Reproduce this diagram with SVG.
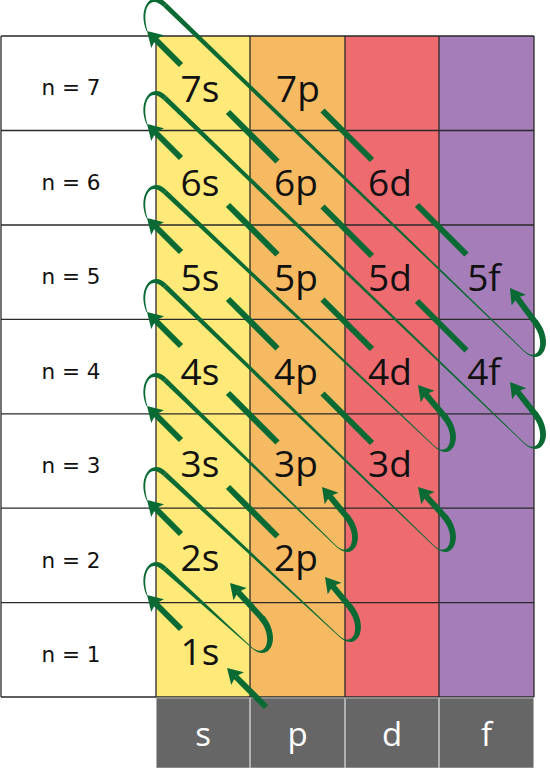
<svg xmlns="http://www.w3.org/2000/svg" width="550" height="768" viewBox="0 0 550 768">
<style>
.grid{fill:none;stroke:#2a2a2a;stroke-width:1.3}
.orb{font-family:"Open Sans","Liberation Sans",sans-serif;font-size:37px;fill:#111;text-anchor:middle}
.nl{font-family:"DejaVu Sans","Liberation Sans",sans-serif;font-size:21.5px;fill:#111;text-anchor:middle}
.hdr{font-family:"Open Sans","Liberation Sans",sans-serif;font-size:33px;fill:#fff;text-anchor:middle}
.hbox{fill:#666;stroke:#b0b0b0;stroke-width:1}
.seg{fill:none;stroke:#0a6a34;stroke-width:6;stroke-linecap:butt}
.arr{marker-end:url(#ah)}
.rib{fill:#0a6a34}
</style>
<defs>
<marker id="ah" markerUnits="userSpaceOnUse" viewBox="0 -10 16 20" markerWidth="16" markerHeight="20" refX="3" refY="0" orient="auto">
<path d="M0,-9 L15,0 L0,9 L3,0 Z" fill="#0a6a34"/>
</marker>
<path id="loop" d="M-0.4,0.15 C-10.3,-22.5 5,-43 19.7,-27.7 L16.3,-24.3 C3,-37.5 -5.9,-21.5 0.4,-0.15 Z"/>
<path id="hook" d="M2.5,-2.1 C21,21.5 6,46.5 -11.3,29.3 L-10.7,28.7 C4,42 12,19 -2.5,2.1 Z"/>
</defs>
<rect width="550" height="768" fill="#fff"/>
<g id="columns">
<rect x="156" y="36" width="94" height="661" fill="#ffe978"/>
<rect x="250" y="36" width="95" height="661" fill="#f6ba63"/>
<rect x="345" y="36" width="94" height="661" fill="#ee6b70"/>
<rect x="439" y="36" width="95" height="661" fill="#a57db8"/>
</g>
<path class="grid" d="M1,36H534M1,130.5H534M1,225H534M1,319.3H534M1,413.8H534M1,508.2H534M1,602.7H534M1,697H534M1,36V697M156,36V697M250,36V697M345,36V697M439,36V697M534,36V697"/>
<g id="n7"><text class="nl" x="71" y="95">n = 7</text></g>
<g id="n6"><text class="nl" x="71" y="189.5">n = 6</text></g>
<g id="n5"><text class="nl" x="71" y="284">n = 5</text></g>
<g id="n4"><text class="nl" x="71" y="378.5">n = 4</text></g>
<g id="n3"><text class="nl" x="71" y="473">n = 3</text></g>
<g id="n2"><text class="nl" x="71" y="567.5">n = 2</text></g>
<g id="n1"><text class="nl" x="71" y="662">n = 1</text></g>
<g id="orb-7s"><text class="orb" x="200" y="102">7s</text></g>
<g id="orb-7p"><text class="orb" x="298" y="102">7p</text></g>
<g id="orb-6s"><text class="orb" x="200" y="196">6s</text></g>
<g id="orb-6p"><text class="orb" x="296" y="196">6p</text></g>
<g id="orb-6d"><text class="orb" x="390" y="196">6d</text></g>
<g id="orb-5s"><text class="orb" x="200" y="291">5s</text></g>
<g id="orb-5p"><text class="orb" x="296" y="291">5p</text></g>
<g id="orb-5d"><text class="orb" x="390" y="291">5d</text></g>
<g id="orb-5f"><text class="orb" x="484" y="291">5f</text></g>
<g id="orb-4s"><text class="orb" x="200" y="385">4s</text></g>
<g id="orb-4p"><text class="orb" x="296" y="385">4p</text></g>
<g id="orb-4d"><text class="orb" x="390" y="385">4d</text></g>
<g id="orb-4f"><text class="orb" x="484" y="385">4f</text></g>
<g id="orb-3s"><text class="orb" x="200" y="477">3s</text></g>
<g id="orb-3p"><text class="orb" x="296" y="477">3p</text></g>
<g id="orb-3d"><text class="orb" x="390" y="477">3d</text></g>
<g id="orb-2s"><text class="orb" x="200" y="571">2s</text></g>
<g id="orb-2p"><text class="orb" x="296" y="571">2p</text></g>
<g id="orb-1s"><text class="orb" x="200" y="665">1s</text></g>
<g id="hdr-s"><rect class="hbox" x="156.5" y="698" width="93" height="70"/><text class="hdr" x="203" y="746">s</text></g>
<g id="hdr-p"><rect class="hbox" x="250.5" y="698" width="94" height="70"/><text class="hdr" x="297.5" y="746">p</text></g>
<g id="hdr-d"><rect class="hbox" x="345.5" y="698" width="93" height="70"/><text class="hdr" x="392" y="746">d</text></g>
<g id="hdr-f"><rect class="hbox" x="439.5" y="698" width="94" height="70"/><text class="hdr" x="486.5" y="746">f</text></g>
<g id="connectors">
<g class="rib">
<use href="#loop" transform="translate(147,595)"/>
<use href="#loop" transform="translate(147,500)"/>
<use href="#loop" transform="translate(147,406)"/>
<use href="#loop" transform="translate(147,312)"/>
<use href="#loop" transform="translate(147,218)"/>
<use href="#loop" transform="translate(147,124)"/>
<use href="#loop" transform="translate(147,31)"/>
<use href="#hook" transform="translate(262,618)"/>
<use href="#hook" transform="translate(350,607)"/>
<use href="#hook" transform="translate(347,517)"/>
<use href="#hook" transform="translate(445,517)"/>
<use href="#hook" transform="translate(445,417)"/>
<use href="#hook" transform="translate(535,414)"/>
<use href="#hook" transform="translate(535,322)"/>
<polygon points="163.3,570.7 250.7,647.3 251.3,646.7 166.7,567.3"/>
<polygon points="163.3,475.7 338.7,636.3 339.3,635.7 166.7,472.3"/>
<polygon points="163.3,381.7 335.7,546.3 336.3,545.7 166.7,378.3"/>
<polygon points="163.3,287.7 433.7,546.3 434.3,545.7 166.7,284.3"/>
<polygon points="163.3,193.7 433.7,446.3 434.3,445.7 166.7,190.3"/>
<polygon points="163.3,99.7 523.7,443.3 524.3,442.7 166.7,96.3"/>
<polygon points="163.3,6.7 523.7,351.3 524.3,350.7 166.7,3.3"/>
</g>
<g class="seg arr">
<path d="M266,707L235.5,676.5"/>
<path d="M263,619.2L238.1,591.9"/>
<path d="M351,608.2L332.7,586.2"/>
<path d="M348,518.2L329.7,496.2"/>
<path d="M446,518.2L426,495.9"/>
<path d="M446,418.2L425.7,394.2"/>
<path d="M536,415.2L517.4,391.5"/>
<path d="M536,323.2L517.1,297.7"/>
<path d="M181,629L155.5,603.5"/>
<path d="M181,534L155.5,508.5"/>
<path d="M181,440L155.5,414.5"/>
<path d="M181,346L155.5,320.5"/>
<path d="M181,252L155.5,226.5"/>
<path d="M181,158L155.5,132.5"/>
<path d="M181,65L155.5,39.5"/>
</g>
<g class="seg">
<path d="M277.5,536.5L228,487"/>
<path d="M277.5,442.5L228,393"/>
<path d="M372,443L322.5,393.5M277.5,348.5L228,299"/>
<path d="M372,349L322.5,299.5M277.5,254.5L228,205"/>
<path d="M466.5,350.5L417,301M372,256L322.5,206.5M277.5,161.5L228,112"/>
<path d="M466.5,254.5L417,205M372,160L322.5,110.5"/>
</g>
</g>
</svg>
